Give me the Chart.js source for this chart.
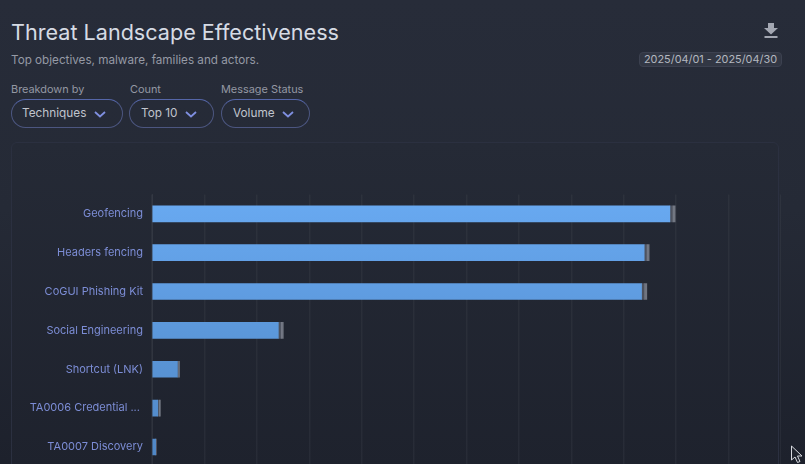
<!DOCTYPE html>
<html>
<head>
<meta charset="utf-8">
<script src="https://cdn.jsdelivr.net/npm/chart.js@4"></script>
<style>
    html, body { margin: 0; padding: 0; width: 805px; height: 464px; overflow: hidden; }
    body { background: linear-gradient(180deg, #272c39 0%, #252a36 45%, #1d212c 100%); font-family: Inter, sans-serif; position: relative; }
    .abs { position: absolute; white-space: nowrap; }
    #titulo { left: 11px; top: 18px; font-size: 21.6px; line-height: 28px; color: #d6dbe4; }
    #subtitulo { left: 11px; top: 52px; font-size: 11.7px; line-height: 16px; color: #959aa5; }
    #fechas { left: 639px; top: 52px; width: 143px; height: 15px; box-sizing: border-box; border: 1px solid #3c4150; line-height: 13px; font-size: 10.9px; text-align: center; color: #b4b8c0; background: #323744; border-radius: 4px; }
    #descarga { left: 763px; top: 22px; }
    .etiqueta { top: 82px; font-size: 10.9px; line-height: 15px; color: #9498a3; }
    .pill { top: 99px; height: 29px; box-sizing: border-box; border: 1px solid #4c5680; border-top-color: #5566a8; border-radius: 15px; font-size: 11.8px; line-height: 27px; color: #c0c4cd; }
    .pill span { position: absolute; top: 0; }
    .pill svg { position: absolute; top: 11px; }
    #tarjeta { left: 11px; top: 142px; width: 768px; height: 330px; box-sizing: border-box; border: 1px solid #2b3040; border-radius: 6px; background: linear-gradient(180deg, #252a36 0%, #1e222d 100%); }
    #contenedor { position: absolute; left: 0; top: 143px; width: 781px; height: 339px; }
    #cursor { left: 790px; top: 445px; }
</style>
</head>
<body>
<div class="abs" id="titulo">Threat Landscape Effectiveness</div>
<div class="abs" id="subtitulo">Top objectives, malware, families and actors.</div>
<svg class="abs" id="descarga" width="16" height="18" viewBox="0 0 16 18"><path d="M5 1h6v5h4l-7 6.500L1 6h4z M1.500 14h13v2h-13z" fill="#a3a7b2"/></svg>
<div class="abs" id="fechas">2025/04/01 - 2025/04/30</div>

<div class="abs etiqueta" style="left:11px">Breakdown by</div>
<div class="abs etiqueta" style="left:130px">Count</div>
<div class="abs etiqueta" style="left:221px">Message Status</div>

<div class="abs pill" style="left:11px;width:112px"><span style="left:10px">Techniques</span><svg style="left:82px" width="12" height="7" viewBox="0 0 12 7"><path d="M1 1l5 4.500L11 1" fill="none" stroke="#7f8fe0" stroke-width="1.800"/></svg></div>
<div class="abs pill" style="left:129px;width:85px"><span style="left:11px">Top 10</span><svg style="left:55px" width="12" height="7" viewBox="0 0 12 7"><path d="M1 1l5 4.500L11 1" fill="none" stroke="#7f8fe0" stroke-width="1.800"/></svg></div>
<div class="abs pill" style="left:221px;width:89px"><span style="left:11px">Volume</span><svg style="left:60px" width="12" height="7" viewBox="0 0 12 7"><path d="M1 1l5 4.500L11 1" fill="none" stroke="#7f8fe0" stroke-width="1.800"/></svg></div>

<div class="abs" id="tarjeta"></div>
<div id="contenedor"><canvas id="grafico"></canvas></div>
<svg class="abs" id="cursor" width="14" height="19" viewBox="0 0 14 19"><path d="M1.500 1v14l3.500-3 2.500 5.500 2.500-1-2.500-5.500h4.500z" fill="#20242e" stroke="#d8dae0" stroke-width="1"/></svg>

<script>
// Datos
const categorias = ['Geofencing', 'Headers fencing', 'CoGUI Phishing Kit', 'Social Engineering', 'Shortcut (LNK)', 'TA0006 Credential ...\u00a0', 'TA0007 Discovery'];
const valoresPrincipales = [9880, 9390, 9340, 2410, 485, 110, 70];
const valoresSecundarios = [60, 55, 60, 55, 25, 30, 5];
const valoresTerciarios = [40, 40, 40, 40, 15, 20, 5];
const maximoEje = 12000;
const pasoEje = 1000;

const canvas = document.getElementById('grafico');
const ctx = canvas.getContext('2d');

// Degradados verticales para barras y etiquetas
const degradadoBarras = ctx.createLinearGradient(0, 50, 0, 322);
degradadoBarras.addColorStop(0, '#69aaf2');
degradadoBarras.addColorStop(1, '#4f86c4');

const degradadoEtiquetas = ctx.createLinearGradient(0, 50, 0, 322);
degradadoEtiquetas.addColorStop(0, '#7c8dd6');
degradadoEtiquetas.addColorStop(1, '#4f5e96');

Chart.defaults.font.family = 'Inter, sans-serif';

new Chart(ctx, {
    type: 'bar',
    data: {
        labels: categorias,
        datasets: [
            {
                data: valoresPrincipales,
                backgroundColor: degradadoBarras,
                barThickness: 16
            },
            {
                data: valoresSecundarios,
                backgroundColor: 'rgba(130, 135, 148, 0.45)',
                barThickness: 16
            },
            {
                data: valoresTerciarios,
                backgroundColor: 'rgba(165, 170, 182, 0.6)',
                barThickness: 16
            }
        ]
    },
    options: {
        indexAxis: 'y',
        responsive: true,
        maintainAspectRatio: false,
        animation: false,
        layout: { padding: { top: 51.4, right: 0, bottom: 0, left: 0 } },
        plugins: { legend: { display: false }, tooltip: { enabled: false } },
        scales: {
            x: {
                stacked: true,
                min: 0,
                max: maximoEje,
                afterFit: (scale) => { scale.height = 0; },
                ticks: { display: false, stepSize: pasoEje },
                grid: { color: 'rgba(255, 255, 255, 0.045)', drawTicks: false, lineWidth: 1.5 },
                border: { display: false }
            },
            y: {
                stacked: true,
                afterFit: (scale) => { scale.width = 152; },
                ticks: { color: degradadoEtiquetas, font: { size: 11 }, padding: 9, autoSkip: false },
                grid: { display: false, drawTicks: false },
                border: { display: true, color: 'rgba(255, 255, 255, 0.06)' }
            }
        }
    }
});
</script>
</body>
</html>
